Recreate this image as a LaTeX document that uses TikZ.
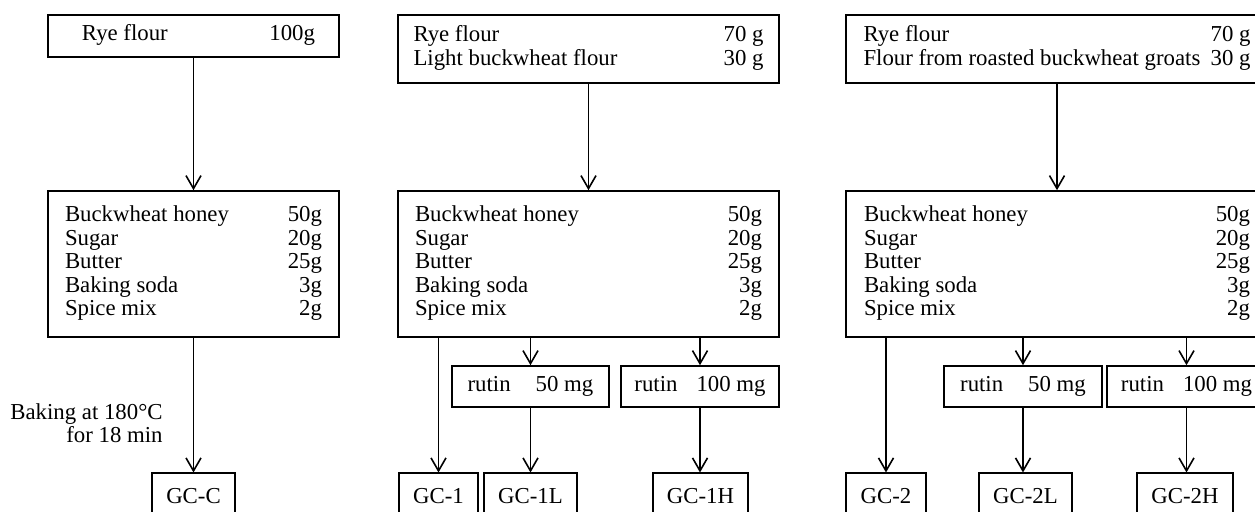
\documentclass[tikz,border=0pt]{standalone}
\usepackage{fontspec}
\setmainfont{Liberation Serif}
\usepackage{tikz}
\usetikzlibrary{arrows.meta}

% the shared list of the second step
\newcommand{\mixlist}[1]{\begin{tabular*}{#1}{@{}l@{\extracolsep{\fill}}r@{}}
  Buckwheat honey & 50g\\
  Sugar & 20g\\
  Butter & 25g\\
  Baking soda & 3g\\
  Spice mix & 2g
\end{tabular*}}

\begin{document}
\begin{tikzpicture}[x=0.5pt, y=-0.5pt,
    every node/.style={font=\fontsize{11.4pt}{11.75pt}\selectfont},
    box/.style={draw, line width=0.8pt, inner sep=0pt},
    rut/.style={box, minimum height=20.5pt},
    prod/.style={box, minimum height=22.5pt, anchor=north},
    arr/.style={-{Straight Barb[length=6.5pt,width=7.5pt]}, line width=0.8pt}]

    \useasboundingbox (0,0) rectangle (1255,512);
    \clip (0,0) rectangle (1255,512);

    % Flour boxes
    \node[box, minimum width=145.5pt, minimum height=21pt] (rye1) at (193.5,36)
      {\hspace{5pt}\begin{tabular*}{116.5pt}{@{}l@{\extracolsep{\fill}}r@{}}Rye flour & 100g\end{tabular*}};
    \node[box, minimum width=190.5pt, minimum height=34pt] (rye2) at (588.5,49)
      {\begin{tabular*}{175pt}{@{}l@{\extracolsep{\fill}}r@{}}Rye flour & 70 g\\ Light buckwheat flour & 30 g\end{tabular*}};
    \node[box, minimum width=211pt, minimum height=34pt] (rye3) at (1057,49)
      {\begin{tabular*}{193.5pt}{@{}l@{\extracolsep{\fill}}r@{}}Rye flour & 70 g\\ Flour from roasted buckwheat groats & 30 g\end{tabular*}};

    % Mix boxes
    \node[box, minimum width=145.5pt, minimum height=73pt] (mix1) at (193.5,264) {\mixlist{128.5pt}};
    \node[box, minimum width=190.5pt, minimum height=73pt] (mix2) at (588.5,264) {\mixlist{173.5pt}};
    \node[box, minimum width=211pt, minimum height=73pt] (mix3) at (1057,264) {\mixlist{193pt}};

    % Rutin boxes
    \node[rut, minimum width=78.5pt] (r1L) at (530.5,386.5) {rutin\hspace{12.5pt}50 mg};
    \node[rut, minimum width=79pt] (r1H) at (700,386.5) {rutin\hspace{9.5pt}100 mg};
    \node[rut, minimum width=79pt] (r2L) at (1023,386.5) {rutin\hspace{12.5pt}50 mg};
    \node[rut, minimum width=79.5pt] (r2H) at (1186.5,386.5) {rutin\hspace{9.5pt}100 mg};

    % Products: name/text/x/width
    \foreach \nm/\txt/\x/\w in {gcC/GC-C/193.5/41.5, gc1/GC-1/438.5/39.5,
      gc1L/GC-1L/530.5/46.5, gc1H/GC-1H/700.5/47.5, gc2/GC-2/886/40,
      gc2L/GC-2L/1025.5/46.5, gc2H/GC-2H/1185/48}
      \node[prod, minimum width=\w pt] (\nm) at (\x,472.5) {\txt};

    \node[align=right, anchor=east, inner sep=0pt] (bake) at (163,423) {Baking at 180°C\\for 18 min};

    % Arrows
    \draw[arr] (rye1) -- (mix1);
    \draw[arr] (mix1) -- (gcC);
    \draw[arr] (rye2) -- (mix2);
    \draw[arr] (gc1 |- mix2.south) -- (gc1.north);
    \draw[arr] (r1L |- mix2.south) -- (r1L.north);
    \draw[arr] (r1L) -- (gc1L);
    \draw[arr] (r1H |- mix2.south) -- (r1H.north);
    \draw[arr] (r1H.south) -- (r1H.south |- gc1H.north);
    \draw[arr] (rye3) -- (mix3);
    \draw[arr] (gc2 |- mix3.south) -- (gc2.north);
    \draw[arr] (r2L |- mix3.south) -- (r2L.north);
    \draw[arr] (r2L.south) -- (r2L.south |- gc2L.north);
    \draw[arr] (r2H |- mix3.south) -- (r2H.north);
    \draw[arr] (r2H.south) -- (r2H.south |- gc2H.north);
\end{tikzpicture}
\end{document}
